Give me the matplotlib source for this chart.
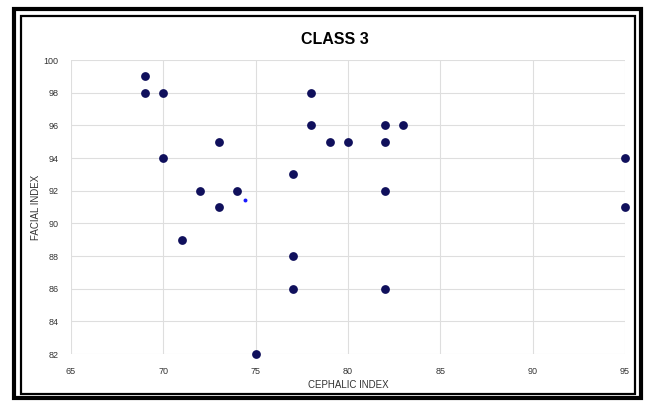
import matplotlib
matplotlib.use("Agg")
import matplotlib.pyplot as plt
from matplotlib.patches import Rectangle

cephalic_index = [69, 69, 70, 70, 71, 72, 73, 73, 74, 75, 77, 77, 77, 78, 78, 79, 80, 82, 82, 82, 82, 83, 95, 95]
facial_index = [99, 98, 98, 94, 89, 92, 95, 91, 92, 82, 93, 88, 86, 98, 96, 95, 95, 96, 95, 92, 86, 96, 94, 91]
extra_x = [74.4]
extra_y = [91.4]
x_ticks = [65, 70, 75, 80, 85, 90, 95]
y_ticks = [82, 84, 86, 88, 90, 92, 94, 96, 98, 100]

plt.rcParams['font.family'] = ['Liberation Sans', 'DejaVu Sans']

fig = plt.figure(figsize=(6.52, 4.04), dpi=100)
W, H = 652, 404

def frect(x0, y0, x1, y1, lw, color):
    fig.patches.append(Rectangle((x0 / W, 1 - y1 / H), (x1 - x0) / W, (y1 - y0) / H,
                                 transform=fig.transFigure, fill=False,
                                 edgecolor=color, linewidth=lw))

# double frame
frect(14, 9, 641, 398, 3.0, 'black')
frect(20.5, 15.5, 635, 393.5, 1.6, 'black')

ax = fig.add_axes([71 / W, 1 - 354 / H, (625 - 71) / W, (354 - 60) / H])
ax.scatter(cephalic_index, facial_index, s=40, color='#10105c', zorder=3, linewidths=0, clip_on=False)
ax.scatter(extra_x, extra_y, s=8, color='#1a1aff', marker='o', zorder=3, linewidths=0, clip_on=False)

ax.set_xlim(65, 95)
ax.set_ylim(82, 100)
ax.set_xticks(x_ticks)
ax.set_yticks(y_ticks)
ax.grid(True, color='#dedede', linewidth=0.8)
ax.set_axisbelow(True)
for s in ax.spines.values():
    s.set_visible(False)
ax.tick_params(length=0, labelsize=6.5, labelcolor='#333333', pad=9)

ax.set_xlabel('CEPHALIC INDEX', fontsize=7, color='#333333', labelpad=3)
ax.set_ylabel('FACIAL INDEX', fontsize=7, color='#333333', labelpad=2)
fig.text(335 / W, 1 - 40 / H, 'CLASS 3', ha='center', va='center', fontsize=11.5, fontweight='bold')

fig.savefig('out.png', dpi=100)
